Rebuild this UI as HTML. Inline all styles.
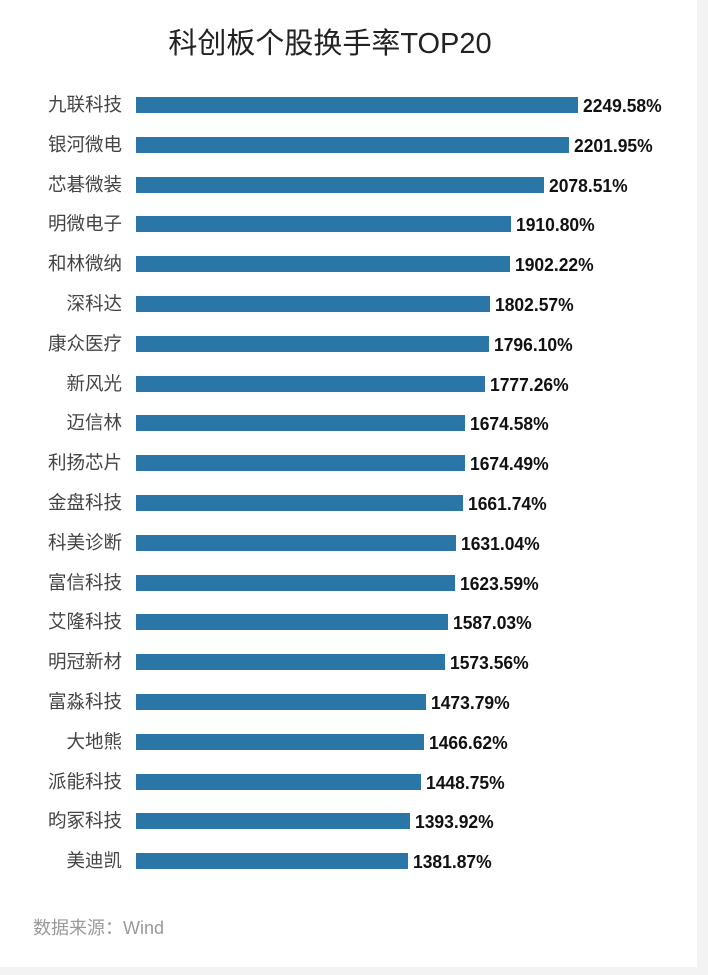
<!DOCTYPE html>
<html><head><meta charset="utf-8"><style>
html,body{margin:0;padding:0;background:#f3f3f3;}
.wrap{position:relative;width:697px;height:967px;background:#fff;}
.t{position:absolute;font-family:"Liberation Sans","Noto Sans CJK SC",sans-serif;white-space:nowrap;}
.title{left:0;width:660px;top:20px;text-align:center;font-size:29px;color:#222;}
.lab{width:122px;text-align:right;font-size:18.5px;color:#444;line-height:22px;}
.bar{position:absolute;left:136px;height:16px;background:#2a76a6;}
.val{font-size:18px;font-weight:bold;color:#111;line-height:22px;transform:scaleX(0.97);transform-origin:0 50%;}
.src{left:33px;top:914px;font-size:18px;color:#999;}
</style></head><body><div class="wrap">
<div class="t title">科创板个股换手率TOP20</div>
<div id="c"></div>
<div class="t src">数据来源：Wind</div>
</div>
<script>
var d=[["九联科技",2249.58],["银河微电",2201.95],["芯碁微装",2078.51],["明微电子",1910.80],["和林微纳",1902.22],["深科达",1802.57],["康众医疗",1796.10],["新风光",1777.26],["迈信林",1674.58],["利扬芯片",1674.49],["金盘科技",1661.74],["科美诊断",1631.04],["富信科技",1623.59],["艾隆科技",1587.03],["明冠新材",1573.56],["富淼科技",1473.79],["大地熊",1466.62],["派能科技",1448.75],["昀冢科技",1393.92],["美迪凯",1381.87]];
var h="";
d.forEach(function(r,i){var cy=105+i*39.8;var w=r[1]*0.1965;
h+='<div class="t lab" style="left:0;top:'+(cy-11)+'px">'+r[0]+'</div>';
h+='<div class="bar" style="top:'+(cy-8)+'px;width:'+w+'px"></div>';
h+='<div class="t val" style="left:'+(136+w+5)+'px;top:'+(cy-10)+'px">'+r[1].toFixed(2)+'%</div>';});
document.getElementById("c").innerHTML=h;
</script></body></html>
